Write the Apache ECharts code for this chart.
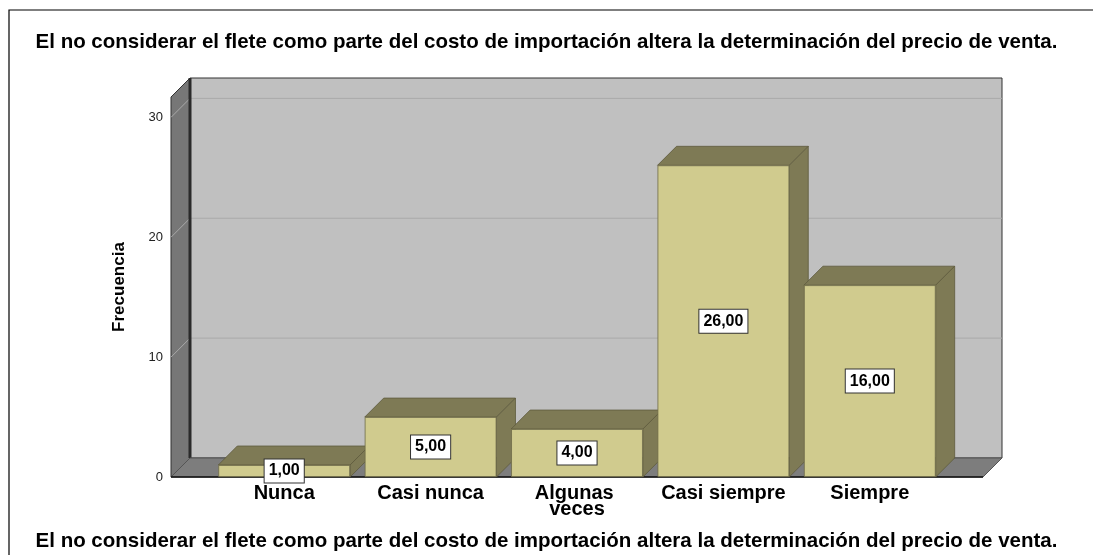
<!DOCTYPE html>
<html>
<head>
<meta charset="utf-8">
<script src="https://cdn.jsdelivr.net/npm/echarts@6/dist/echarts.min.js"></script>
<style>
  html, body { margin: 0; padding: 0; background: #fff; }
  #chart { width: 1093px; height: 555px; }
</style>
</head>
<body>
<div id="chart"></div>
<script>
const titleText = 'El no considerar el flete como parte del costo de importación altera la determinación del precio de venta.';
const categories = ['Nunca', 'Casi nunca', 'Algunas veces', 'Casi siempre', 'Siempre'];
const frecuencias = [1, 5, 4, 26, 16];
const yTicks = [0, 10, 20, 30];
const yMax = 31.7;

const DEPTH = 19;      // 3d offset (px)
const PAD = 40;        // floor overhang past the category band (px)
const BAR_RATIO = 0.9; // bar width / band width

const chart = echarts.init(document.getElementById('chart'), null, { renderer: 'canvas' });

// back wall, left wall, floor and the gridlines on them
function renderWalls(params, api) {
  const cs = params.coordSys;
  const x0 = cs.x - PAD;
  const x1 = cs.x + cs.width + PAD;
  const yb = api.coord([0, 0])[1];
  const yt = api.coord([0, yMax])[1];
  const kids = [];
  kids.push({
    type: 'rect',
    shape: { x: x0 + DEPTH, y: yt - DEPTH, width: x1 - x0, height: yb - yt },
    style: { fill: '#c0c0c0', stroke: '#333', lineWidth: 1 }
  });
  kids.push({
    type: 'polygon',
    shape: { points: [[x0, yt], [x0 + DEPTH, yt - DEPTH], [x0 + DEPTH, yb - DEPTH], [x0, yb]] },
    style: { fill: '#777777', stroke: '#333', lineWidth: 1 }
  });
  yTicks.forEach(function (t) {
    if (t === 0) return;
    const y = api.coord([0, t])[1];
    kids.push({
      type: 'polyline',
      shape: { points: [[x0, y], [x0 + DEPTH, y - DEPTH], [x1 + DEPTH, y - DEPTH]] },
      style: { stroke: '#a9a9a9', fill: null, lineWidth: 1 }
    });
  });
  kids.push({
    type: 'line',
    shape: { x1: x0 + DEPTH, y1: yt - DEPTH, x2: x0 + DEPTH, y2: yb - DEPTH },
    style: { stroke: '#2a2a2a', lineWidth: 3 }
  });
  kids.push({
    type: 'polygon',
    shape: { points: [[x0, yb], [x0 + DEPTH, yb - DEPTH], [x1 + DEPTH, yb - DEPTH], [x1, yb]] },
    style: { fill: '#7d7d7d', stroke: '#555', lineWidth: 1 }
  });
  kids.push({
    type: 'line',
    shape: { x1: x0, y1: yb, x2: x1, y2: yb },
    style: { stroke: '#111', lineWidth: 1.5 }
  });
  return { type: 'group', children: kids };
}

// top and right faces of each bar (front face is the bar series)
function renderBarDepth(params, api) {
  const idx = api.value(0);
  const val = api.value(1);
  const p = api.coord([idx, val]);
  const base = api.coord([idx, 0])[1];
  const w = api.size([1, 0])[0] * BAR_RATIO;
  const l = p[0] - w / 2, r = p[0] + w / 2, top = p[1];
  const st = { fill: '#7e7a55', stroke: '#5e5b3e', lineWidth: 0.8 };
  return {
    type: 'group',
    children: [
      { type: 'polygon', shape: { points: [[l, top], [l + DEPTH, top - DEPTH], [r + DEPTH, top - DEPTH], [r, top]] }, style: st },
      { type: 'polygon', shape: { points: [[r, top], [r + DEPTH, top - DEPTH], [r + DEPTH, base - DEPTH], [r, base]] }, style: st }
    ]
  };
}

const option = {
  animation: false,
  textStyle: { fontFamily: 'Liberation Sans, Arial, sans-serif' },
  title: [
    { text: titleText, left: 'center', top: 27, textStyle: { fontSize: 20.5, fontWeight: 'bold', color: '#000' } },
    { text: titleText, left: 'center', top: 526, textStyle: { fontSize: 20.5, fontWeight: 'bold', color: '#000' } }
  ],
  graphic: [{
    type: 'polyline',
    shape: { points: [[9, 560], [9, 10], [1100, 10]] },
    style: { stroke: '#000', fill: null, lineWidth: 1.2 },
    silent: true
  }],
  grid: { left: 211, right: 150, top: 97, bottom: 78 },
  xAxis: {
    type: 'category',
    data: categories,
    axisLine: { show: false },
    axisTick: { show: false },
    axisLabel: {
      interval: 0, margin: 8, fontSize: 20, fontWeight: 'bold', color: '#000',
      lineHeight: 16, width: 130, overflow: 'break'
    }
  },
  yAxis: {
    type: 'value',
    min: 0,
    max: yMax,
    interval: 10,
    name: 'Frecuencia',
    nameLocation: 'middle',
    nameGap: 83,
    nameTextStyle: { fontSize: 17, fontWeight: 'bold', color: '#000' },
    axisLine: { show: false },
    axisTick: { show: false },
    splitLine: { show: false },
    axisLabel: {
      margin: 48, fontSize: 13, color: '#222', showMaxLabel: false,
      formatter: function (v) { return yTicks.indexOf(v) >= 0 ? String(v) : ''; }
    }
  },
  series: [
    {
      type: 'custom',
      z: 1,
      silent: true,
      renderItem: renderWalls,
      data: [[0, 0]]
    },
    {
      type: 'custom',
      z: 2,
      silent: true,
      renderItem: renderBarDepth,
      encode: { x: 0, y: 1 },
      data: frecuencias.map(function (v, i) { return [i, v]; })
    },
    {
      type: 'bar',
      z: 3,
      silent: true,
      barCategoryGap: '10%',
      data: frecuencias,
      itemStyle: { color: '#d0cb8e', borderColor: '#6e6b48', borderWidth: 0.8 },
      label: {
        show: true,
        position: 'inside',
        fontSize: 16,
        fontWeight: 'bold',
        color: '#000',
        backgroundColor: '#fff',
        borderColor: '#333',
        borderWidth: 1,
        padding: [4, 4, 3, 4],
        formatter: function (p) { return p.value.toFixed(2).replace('.', ','); }
      }
    }
  ]
};

chart.setOption(option);
</script>
</body>
</html>
